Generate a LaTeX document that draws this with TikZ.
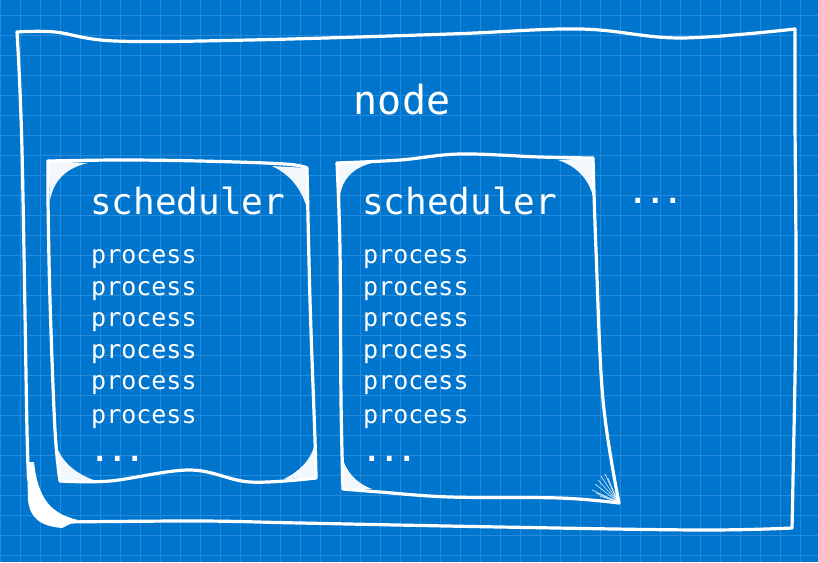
\documentclass[tikz,border=0pt]{standalone}
\usepackage{fontspec}
\usepackage{xcolor}
\usetikzlibrary{positioning}
\newfontfamily\sketchfont{DejaVu Sans Mono}
\definecolor{blueprint}{RGB}{0,117,205}
\definecolor{gridblue}{RGB}{36,138,220}

\begin{document}
\begin{tikzpicture}[x=1pt, y=-1pt,
    sketch/.style={draw=white, line width=3.2pt, line cap=round, line join=round},
    hatch/.style={fill=white, fill opacity=0.95, draw=none},
    fan/.style={white, line width=0.7pt, opacity=0.8},
    txt/.style={text=white, inner sep=0pt, anchor=base west},
    nodetext/.style={txt, anchor=base, font=\sketchfont\fontsize{40}{42}\selectfont},
    sched/.style={txt, font=\sketchfont\fontsize{36}{38}\selectfont},
    proc/.style={txt, font=\sketchfont\fontsize{25}{27}\selectfont},
    ellipsis/.style={txt, font=\sketchfont\bfseries\fontsize{29}{31}\selectfont}]
    % blueprint paper
    \fill[blueprint] (0,0) rectangle (818,562);
    \useasboundingbox (0,0) rectangle (818,562);
    \foreach \gx in {0,20,...,800} {
        \draw[gridblue, line width=1pt] (\gx,0) -- (\gx,562);
    }
    \foreach \gy in {15,35,...,555} {
        \draw[gridblue, line width=1pt] (0,\gy) -- (818,\gy);
    }

    % outer box
    \draw[sketch] plot[smooth, tension=0.6] coordinates {(17,32) (55,32) (115,41) (250,40) (450,34) (580,29) (680,38) (795,29)};
    \draw[sketch] plot[smooth, tension=0.6] coordinates {(795,29) (795,120) (796,300) (793,480) (792,528)};
    \draw[sketch] plot[smooth, tension=0.6] coordinates {(792,528) (700,530) (500,527) (300,523) (200,521) (65,522)};
    \draw[sketch] plot[smooth, tension=0.6] coordinates {(17,32) (22,150) (27,430) (29,480)};
    \fill[white] (27,462) -- (28,500) .. controls (30,518) and (40,526) .. (62,528) -- (78,520) .. controls (52,514) and (38,500) .. (34,462) -- cycle;

    % left scheduler box
    \draw[sketch] plot[smooth, tension=0.6] coordinates {(48,161) (120,160) (200,161) (285,164) (307,168)};
    \draw[sketch] plot[smooth, tension=0.6] coordinates {(307,168) (310,300) (315,440) (316,478)};
    \draw[sketch] plot[smooth, tension=0.6] coordinates {(316,478) (250,482) (190,470) (110,481) (60,481)};
    \draw[sketch] plot[smooth, tension=0.6] coordinates {(60,481) (55,430) (50,300) (48,200) (48,161)};
    \fill[hatch] (48,161) -- (88,163) .. controls (66,168) and (54,180) .. (50,200) -- cycle;
    \fill[hatch] (307,168) -- (308,212) .. controls (303,192) and (293,176) .. (272,166) -- cycle;
    \fill[hatch] (60,481) -- (56,445) .. controls (62,463) and (78,476) .. (100,482) -- cycle;
    \fill[hatch] (316,478) -- (284,479) .. controls (298,472) and (310,462) .. (315,444) -- cycle;

    % right scheduler box
    \draw[sketch] plot[smooth, tension=0.6] coordinates {(337,163) (400,160) (460,154) (540,157) (593,158)};
    \draw[sketch] plot[smooth, tension=0.6] coordinates {(593,158) (596,250) (603,400) (619,503)};
    \draw[sketch] plot[smooth, tension=0.6] coordinates {(619,503) (560,498) (450,497) (380,492) (343,489)};
    \draw[sketch] plot[smooth, tension=0.6] coordinates {(343,489) (341,400) (340,250) (337,163)};
    \fill[hatch] (337,163) -- (372,163) .. controls (352,168) and (342,180) .. (340,196) -- cycle;
    \fill[hatch] (593,158) -- (558,160) .. controls (576,166) and (588,178) .. (593,196) -- cycle;
    \fill[hatch] (343,489) -- (342,456) .. controls (346,472) and (356,483) .. (372,489) -- cycle;
    \foreach \fx/\fy in {592/490, 595/484, 598/480, 601/476, 605/474, 608/478, 596/493, 600/496} {
        \draw[fan] (\fx,\fy) -- (618,502);
    }

    % labels
    \node[nodetext] (nodelbl) at (402,114) {node};
    \node[sched] (lsched) at (90,214) {scheduler};
    \node[sched] (rsched) at (362,214) {scheduler};
    \foreach \y [count=\i] in {263,295,326,358,389,423} {
        \node[proc] (lproc\i) at (91,\y) {process};
        \node[proc] (rproc\i) at (363,\y) {process};
    }
    \node[ellipsis] (ldots) at (91,461) {...};
    \node[ellipsis] (rdots) at (363,461) {...};
    \node[ellipsis] (moredots) at (629,203) {...};
\end{tikzpicture}
\end{document}
